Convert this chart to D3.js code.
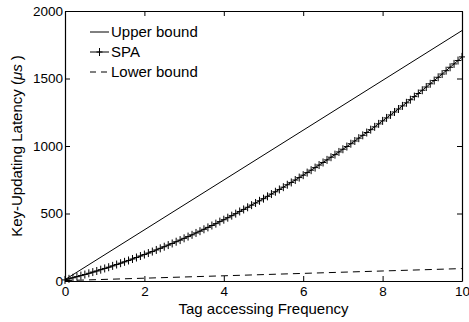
<!DOCTYPE html>
<html>
<head>
<meta charset="utf-8">
<script src="https://cdn.jsdelivr.net/npm/d3@7/dist/d3.min.js"></script>
<style>
html, body { margin: 0; padding: 0; background: #fff; }
svg { display: block; font-family: "Liberation Sans", Arial, Helvetica, sans-serif; }
</style>
</head>
<body>
<svg id="chart" width="469" height="322"></svg>
<script>
// ---- data ----
const xTicks = [0, 2, 4, 6, 8, 10];
const yTicks = [0, 500, 1000, 1500, 2000];
const seriesNames = ["Upper bound", "SPA", "Lower bound"];

const upperX = [0, 10];
const upperY = [10, 1855];

const lowerX = [0, 10];
const lowerY = [3, 92];

const spaX = [0,0.1,0.2,0.3,0.4,0.5,0.6,0.7,0.8,0.9,1,1.1,1.2,1.3,1.4,1.5,1.6,1.7,1.8,1.9,2,2.1,2.2,2.3,2.4,2.5,2.6,2.7,2.8,2.9,3,3.1,3.2,3.3,3.4,3.5,3.6,3.7,3.8,3.9,4,4.1,4.2,4.3,4.4,4.5,4.6,4.7,4.8,4.9,5,5.1,5.2,5.3,5.4,5.5,5.6,5.7,5.8,5.9,6,6.1,6.2,6.3,6.4,6.5,6.6,6.7,6.8,6.9,7,7.1,7.2,7.3,7.4,7.5,7.6,7.7,7.8,7.9,8,8.1,8.2,8.3,8.4,8.5,8.6,8.7,8.8,8.9,9,9.1,9.2,9.3,9.4,9.5,9.6,9.7,9.8,9.9,10];
const spaY = [8,16,24,32,40,48,57,66,74,84,93,102,112,122,132,142,152,163,174,185,196,207,218,230,242,254,266,278,291,303,316,329,342,356,369,383,397,411,425,440,454,469,484,499,515,530,546,562,578,594,610,627,644,661,678,695,713,730,748,766,784,803,821,840,859,878,897,917,936,956,976,996,1017,1037,1058,1079,1100,1121,1142,1164,1186,1208,1230,1252,1274,1297,1320,1343,1366,1389,1413,1437,1461,1485,1509,1533,1558,1583,1608,1633,1660];

// ---- layout ----
const W = 469, H = 322;
const m = { left: 65, top: 11, right: 7, bottom: 41 };
const iw = W - m.left - m.right, ih = H - m.top - m.bottom;

const svg = d3.select("#chart");
const g = svg.append("g").attr("transform", `translate(${m.left},${m.top})`);

const x = d3.scaleLinear().domain([0, 10]).range([0, iw]);
const y = d3.scaleLinear().domain([0, 2000]).range([ih, 0]);

const fsTick = 13.5;
const fsLab = 15;
const fam = '"Liberation Sans", Arial, sans-serif';

// axes
const fmt = d3.format("d");
const axB = d3.axisBottom(x).tickValues(xTicks).tickFormat(fmt).tickSizeInner(-5).tickSizeOuter(0).tickPadding(5);
const axT = d3.axisTop(x).tickValues(xTicks).tickSizeInner(-5).tickSizeOuter(0).tickFormat("");
const axL = d3.axisLeft(y).tickValues(yTicks).tickFormat(fmt).tickSizeInner(-5).tickSizeOuter(0).tickPadding(2);
const axR = d3.axisRight(y).tickValues(yTicks).tickSizeInner(-5).tickSizeOuter(0).tickFormat("");

function style(sel) {
  sel.selectAll("path").attr("stroke", "#000").attr("stroke-width", 1.2);
  sel.selectAll("line").attr("stroke", "#000").attr("stroke-width", 1);
  sel.selectAll("text").attr("fill", "#000").style("font-size", fsTick + "px")
     .style("font-family", fam);
}
g.append("g").attr("transform", `translate(0,${ih})`).call(axB).call(style);
g.append("g").call(axT).call(style);
g.append("g").call(axL).call(style);
g.append("g").attr("transform", `translate(${iw},0)`).call(axR).call(style);

const plot = g.append("g");
const line = d3.line().x(d => x(d[0])).y(d => y(d[1]));

const upper = upperX.map((v, i) => [v, upperY[i]]);
const lower = lowerX.map((v, i) => [v, lowerY[i]]);
const spa = spaX.map((v, i) => [v, spaY[i]]);

plot.append("path").datum(upper).attr("d", line)
  .attr("fill", "none").attr("stroke", "#000").attr("stroke-width", 1);
plot.append("path").datum(lower).attr("d", line)
  .attr("fill", "none").attr("stroke", "#000").attr("stroke-width", 1)
  .attr("stroke-dasharray", "7,5");
plot.append("path").datum(spa).attr("d", line)
  .attr("fill", "none").attr("stroke", "#000").attr("stroke-width", 1);

const mh = 3, mv = 4;
const sym = plot.append("g").attr("stroke", "#000").attr("stroke-width", 1);
sym.selectAll("path").data(spa).join("path")
  .attr("d", d => {
    const px = x(d[0]), py = y(d[1]);
    return `M${px - mh},${py}H${px + mh}M${px},${py - mv}V${py + mv}`;
  });

// legend
const leg = g.append("g").attr("transform", "translate(25,0)");
const rows = [
  { name: seriesNames[0], dash: null, marker: false },
  { name: seriesNames[1], dash: null, marker: true },
  { name: seriesNames[2], dash: "6,5", marker: false }
];
rows.forEach((r, i) => {
  const cy = 21 + i * 20;
  leg.append("line").attr("x1", 0).attr("x2", 19).attr("y1", cy).attr("y2", cy)
    .attr("stroke", "#000").attr("stroke-width", 1)
    .attr("stroke-dasharray", r.dash);
  if (r.marker) {
    leg.append("path").attr("d", `M${9.5 - mh},${cy}H${9.5 + mh}M9.5,${cy - mv}V${cy + mv}`)
      .attr("stroke", "#000").attr("stroke-width", 1);
  }
  leg.append("text").attr("x", 21).attr("y", cy).attr("dy", "0.35em")
    .style("font-size", fsLab + "px").text(r.name);
});

// axis labels
svg.append("text")
  .attr("x", m.left + iw / 2).attr("y", 314)
  .attr("text-anchor", "middle").style("font-size", fsLab + "px")
  .text("Tag accessing Frequency");

const yl = svg.append("text")
  .attr("transform", `translate(22,${m.top + ih / 2}) rotate(-90)`)
  .attr("text-anchor", "middle").style("font-size", fsLab + "px");
yl.append("tspan").text("Key-Updating Latency (");
yl.append("tspan").style("font-style", "italic").text("\u03bcs");
yl.append("tspan").text(" )");
</script>
</body>
</html>
